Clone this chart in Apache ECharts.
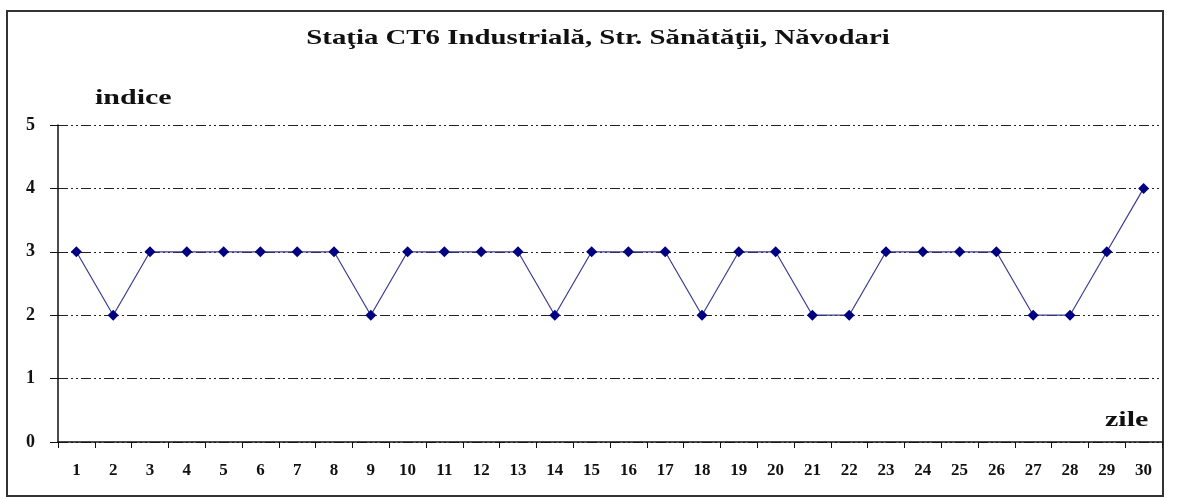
<!DOCTYPE html>
<html>
<head>
<meta charset="utf-8">
<script src="https://cdn.jsdelivr.net/npm/echarts@6/dist/echarts.min.js"></script>
<style>
  html, body { margin: 0; padding: 0; background: #fff; }
  #chart { width: 1178px; height: 498px; }
</style>
</head>
<body>
<div id="chart"></div>
<script>
const days = ['1','2','3','4','5','6','7','8','9','10','11','12','13','14','15',
    '16','17','18','19','20','21','22','23','24','25','26','27','28','29','30'];
const indexValues = [3,2,3,3,3,3,3,3,2,3,3,3,3,2,3,3,3,2,3,3,2,2,3,3,3,3,2,2,3,4];
const yTicks = [0, 5, 1]; // min, max, interval
const chartTitle = 'Staţia CT6 Industrială, Str. Sănătăţii, Năvodari';
const yName = 'indice';
const xName = 'zile';

const SERIF = '"Liberation Serif", "DejaVu Serif", serif';

// the source picture is stretched sideways, so the big texts get a scaleX
function wideText(text, x, y, size, sx, align) {
    return {
        type: 'text',
        x: x, y: y,
        scaleX: sx,
        style: {
            text: text,
            x: 0, y: 0,
            align: align,
            verticalAlign: 'top',
            fontFamily: SERIF, fontWeight: 'bold', fontSize: size,
            fill: '#111'
        }
    };
}

const chart = echarts.init(document.getElementById('chart'));

chart.setOption({
    animation: false,
    graphic: [
        {
            type: 'rect',
            shape: { x: 7, y: 11, width: 1156, height: 485 },
            style: { fill: 'none', stroke: '#333', lineWidth: 2 },
            z: -1
        },
        wideText(chartTitle, 598, 27, 22, 1.31, 'center'),
        wideText(yName, 95, 89, 20, 1.5, 'left'),
        wideText(xName, 1105, 411, 20, 1.5, 'left')
    ],
    grid: { left: 58, right: 16, top: 125, bottom: 56 },
    xAxis: {
        type: 'category',
        data: days,
        boundaryGap: true,
        axisLine: { lineStyle: { color: '#111', width: 1.5 } },
        axisTick: { show: true, length: 6, lineStyle: { color: '#111' } },
        axisLabel: {
            fontFamily: SERIF, fontWeight: 'bold', fontSize: 17, color: '#111', margin: 20
        },
        splitLine: { show: false }
    },
    yAxis: {
        type: 'value',
        min: yTicks[0],
        max: yTicks[1],
        interval: yTicks[2],
        axisLine: { show: true, lineStyle: { color: '#111', width: 1.5 } },
        axisTick: { show: true, length: 8, lineStyle: { color: '#111' } },
        axisLabel: {
            fontFamily: SERIF, fontWeight: 'bold', fontSize: 18, color: '#111', margin: 23
        },
        splitLine: {
            show: true,
            lineStyle: { color: '#222', width: 1, type: [10, 3, 2, 3, 2, 3] }
        }
    },
    series: [{
        type: 'line',
        data: indexValues,
        symbol: 'diamond',
        symbolSize: 11,
        itemStyle: { color: '#000080' },
        lineStyle: { color: '#3c3c8e', width: 1.2 }
    }]
});
</script>
</body>
</html>
